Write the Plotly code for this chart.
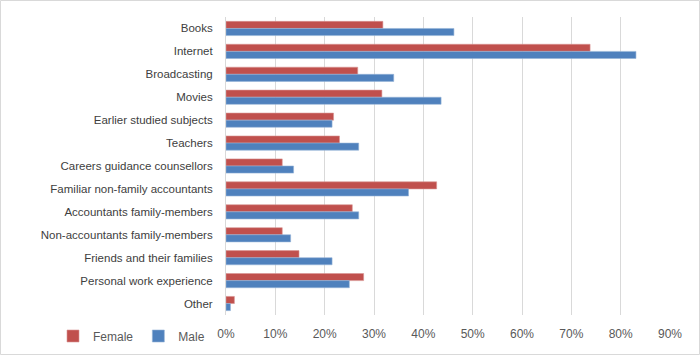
import plotly.graph_objects as go

categories = ["Books", "Internet", "Broadcasting", "Movies", "Earlier studied subjects",
              "Teachers", "Careers guidance counsellors", "Familiar non-family accountants",
              "Accountants family-members", "Non-accountants family-members",
              "Friends and their families", "Personal work experience", "Other"]
female = [31.8, 73.8, 26.7, 31.6, 21.8, 23.0, 11.4, 42.7, 25.6, 11.4, 14.8, 27.9, 1.7]
male = [46.2, 83.1, 34.0, 43.6, 21.5, 26.9, 13.7, 37.0, 26.9, 13.1, 21.5, 25.0, 0.9]
tick_vals = [0, 10, 20, 30, 40, 50, 60, 70, 80, 90]
tick_text = ["0%", "10%", "20%", "30%", "40%", "50%", "60%", "70%", "80%", "90%"]

W, H = 700, 355
L, R, T, B = 226, 30, 17, 40
pw, ph = W - L - R, H - T - B

def px_x(p):
    return (p - L) / pw

def px_y(p):
    return (H - B - p) / ph

fig = go.Figure()
fig.add_trace(go.Bar(y=categories, x=female, name="Female", orientation="h",
                     marker=dict(color="#C0504D", line=dict(color="#D99694", width=0.6))))
fig.add_trace(go.Bar(y=categories, x=male, name="Male", orientation="h",
                     marker=dict(color="#4F81BD", line=dict(color="#95B3D7", width=0.6))))

fig.update_layout(
    width=W, height=H,
    margin=dict(l=L, r=R, t=T, b=B, pad=0, autoexpand=False),
    barmode="group", bargap=0.38, bargroupgap=0,
    plot_bgcolor="white", paper_bgcolor="white",
    font=dict(family="Liberation Sans, Arial", size=11.5, color="#595959"),
    xaxis=dict(range=[0, 90], tickvals=tick_vals, ticktext=tick_text, automargin=False,
               showgrid=True, gridcolor="#D9D9D9", gridwidth=1,
               zeroline=False, showline=False, ticks="", ticklabelstandoff=10,
               tickfont=dict(size=12, color="#595959")),
    yaxis=dict(autorange="reversed", showgrid=False, zeroline=False, automargin=False,
               showline=True, linecolor="#D9D9D9", linewidth=1, ticks="",
               ticklabelstandoff=10, tickfont=dict(size=11.5, color="#404040")),
    legend=dict(orientation="h", x=px_x(53), xanchor="left", y=px_y(336), yanchor="middle",
                font=dict(size=12, color="#595959"), itemwidth=30, traceorder="normal",
                bgcolor="rgba(0,0,0,0)"),
    showlegend=True,
)

fig.add_shape(type="rect", xref="paper", yref="paper",
              x0=px_x(0.5), x1=px_x(699.5), y0=px_y(354.5), y1=px_y(0.5),
              line=dict(color="#D9D9D9", width=1), fillcolor="rgba(0,0,0,0)", layer="below")

fig.write_html("out.html", config={"displayModeBar": False},
               post_script="document.body.style.margin='0';document.body.style.overflow='hidden';")
